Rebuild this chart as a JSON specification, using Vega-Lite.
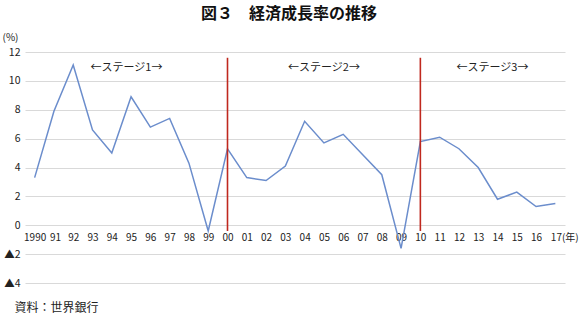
{
  "$schema": "https://vega.github.io/schema/vega-lite/v6.json",
  "width": 540,
  "height": 231,
  "autosize": {"type": "none"},
  "padding": {"left": 25, "top": 52, "right": 17, "bottom": 34},
  "background": "white",
  "title": {
    "text": "図３　経済成長率の推移",
    "font": "Noto Sans CJK JP",
    "fontSize": 16,
    "fontWeight": "bold",
    "color": "#111111",
    "anchor": "middle",
    "frame": "group",
    "baseline": "bottom",
    "offset": 10,
    "dy": 16,
    "dx": -6
  },
  "config": {
    "view": {"stroke": null},
    "font": "Noto Sans CJK JP"
  },
  "datasets": {
    "gdp": [
      {"year": 1990, "value": 3.3},
      {"year": 1991, "value": 7.9},
      {"year": 1992, "value": 11.1},
      {"year": 1993, "value": 6.6},
      {"year": 1994, "value": 5.0},
      {"year": 1995, "value": 8.9},
      {"year": 1996, "value": 6.8},
      {"year": 1997, "value": 7.4},
      {"year": 1998, "value": 4.3},
      {"year": 1999, "value": -0.4},
      {"year": 2000, "value": 5.3},
      {"year": 2001, "value": 3.3},
      {"year": 2002, "value": 3.1},
      {"year": 2003, "value": 4.1},
      {"year": 2004, "value": 7.2},
      {"year": 2005, "value": 5.7},
      {"year": 2006, "value": 6.3},
      {"year": 2007, "value": 4.9},
      {"year": 2008, "value": 3.5},
      {"year": 2009, "value": -1.6},
      {"year": 2010, "value": 5.8},
      {"year": 2011, "value": 6.1},
      {"year": 2012, "value": 5.3},
      {"year": 2013, "value": 4.0},
      {"year": 2014, "value": 1.8},
      {"year": 2015, "value": 2.3},
      {"year": 2016, "value": 1.3},
      {"year": 2017, "value": 1.5}
    ],
    "stages": [
      {"year": 1994.76, "value": 10.9, "label": "←ステージ1→"},
      {"year": 2005.0, "value": 10.9, "label": "←ステージ2→"},
      {"year": 2013.74, "value": 10.9, "label": "←ステージ3→"}
    ],
    "dividers": [
      {"year": 2000, "value": 11.6, "bottom": -0.4},
      {"year": 2010, "value": 11.6, "bottom": -0.4}
    ]
  },
  "encoding": {
    "x": {
      "field": "year",
      "type": "quantitative",
      "scale": {"domain": [1989.5, 2017.5], "nice": false, "zero": false},
      "axis": {
        "values": [1990,1991,1992,1993,1994,1995,1996,1997,1998,1999,2000,2001,2002,2003,2004,2005,2006,2007,2008,2009,2010,2011,2012,2013,2014,2015,2016,2017],
        "tickCount": 28,
        "labelExpr": "datum.value == 1990 ? '1990' : (datum.value == 2017 ? '17(年)' : slice(toString(datum.value), 2))",
        "labelAlign": {"condition": {"test": "datum.value == 2017", "value": "left"}, "value": "center"},
        "labelOffset": {"condition": [{"test": "datum.value == 2017", "value": -5}, {"test": "datum.value == 1991", "value": 1}], "value": 0},
        "labelOverlap": false,
        "labelFlush": false,
        "labelFontSize": 10,
        "labelColor": "#222222",
        "labelPadding": 6,
        "domain": false,
        "ticks": false,
        "grid": false,
        "offset": -57,
        "title": "資料：世界銀行",
        "titleFontSize": 12,
        "titleFontWeight": "normal",
        "titleColor": "#222222",
        "titleAlign": "left",
        "titleBaseline": "middle",
        "titleAnchor": "start",
        "titleX": -11,
        "titleY": 81
      }
    },
    "y": {
      "field": "value",
      "type": "quantitative",
      "scale": {"domain": [-4, 12], "nice": false},
      "axis": {
        "values": [-4, -2, 0, 2, 4, 6, 8, 10, 12],
        "tickCount": 9,
        "labelOverlap": false,
        "labelExpr": "datum.value < 0 ? '▲' + abs(datum.value) : datum.value",
        "labelFontSize": 10.5,
        "labelColor": "#222222",
        "labelPadding": 5,
        "domain": false,
        "ticks": false,
        "grid": true,
        "gridColor": "#d9d9d9",
        "gridWidth": 1,
        "title": "(%)",
        "titleAngle": 0,
        "titleFontSize": 10,
        "titleFontWeight": "normal",
        "titleColor": "#222222",
        "titleAlign": "center",
        "titleBaseline": "middle",
        "titleX": -15,
        "titleY": -15
      }
    }
  },
  "layer": [
    {
      "data": {"name": "gdp"},
      "mark": {"type": "line", "color": "#6b8dcc", "strokeWidth": 1.5}
    },
    {
      "data": {"name": "dividers"},
      "mark": {"type": "rule", "color": "#c0281e", "strokeWidth": 1.6},
      "encoding": {
        "y2": {"field": "bottom"}
      }
    },
    {
      "data": {"name": "stages"},
      "mark": {"type": "text", "fontSize": 11, "color": "#222222", "align": "center", "baseline": "middle"},
      "encoding": {
        "text": {"field": "label"}
      }
    }
  ]
}
